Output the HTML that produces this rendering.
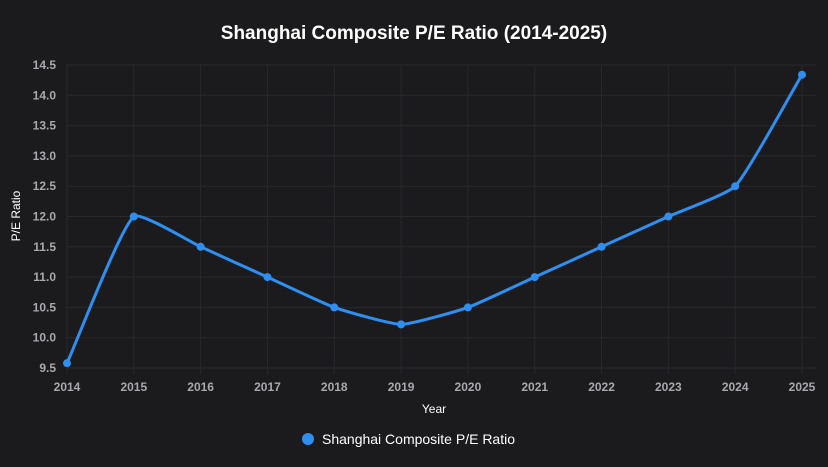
<!DOCTYPE html>
<html><head><meta charset="utf-8">
<style>
html,body{margin:0;padding:0;background:#1b1b1e;width:828px;height:467px;overflow:hidden}
svg{display:block;font-family:"Liberation Sans",Arial,sans-serif}
</style></head>
<body>
<svg id="chart" width="828" height="467">
<rect width="828" height="467" fill="#1b1b1e"/>
<text x="414" y="39" text-anchor="middle" fill="#ffffff" font-size="19" font-weight="bold">Shanghai Composite P/E Ratio (2014-2025)</text>
<g id="grid"></g>
<g id="yticks"></g>
<g id="xticks"></g>
<text transform="translate(20,216) rotate(-90)" text-anchor="middle" fill="#ffffff" font-size="12">P/E Ratio</text>
<text x="434" y="413" text-anchor="middle" fill="#ffffff" font-size="12">Year</text>
<path id="line" fill="none" stroke="#2f8ff0" stroke-width="3"/>
<g id="points"></g>
<g>
<circle cx="308" cy="439" r="6" fill="#2f8ff0"/>
<text x="322" y="444" fill="#ffffff" font-size="14">Shanghai Composite P/E Ratio</text>
</g>
</svg>
<script>
const years = ["2014","2015","2016","2017","2018","2019","2020","2021","2022","2023","2024","2025"];
const peValues = [9.58, 12.0, 11.5, 11.0, 10.5, 10.22, 10.5, 11.0, 11.5, 12.0, 12.5, 14.34];
const yTicks = [9.5,10.0,10.5,11.0,11.5,12.0,12.5,13.0,13.5,14.0,14.5];

const NS="http://www.w3.org/2000/svg";
const x0=67,x1=802,yTop=65,yBot=368,vMin=9.5,vMax=14.5;
const xs=i=>x0+(x1-x0)*i/(years.length-1);
const ys=v=>yBot-(v-vMin)/(vMax-vMin)*(yBot-yTop);
function mk(tag,attrs,parent,txt){const e=document.createElementNS(NS,tag);for(const k in attrs)e.setAttribute(k,attrs[k]);if(txt!==undefined)e.textContent=txt;parent.appendChild(e);return e;}
const grid=document.getElementById('grid'),yt=document.getElementById('yticks'),xt=document.getElementById('xticks');
yTicks.forEach(v=>{
  const l=mk('line',{x1:x0,x2:x1+14,y1:ys(v),y2:ys(v),stroke:'#28282d','stroke-width':1},grid);
  
  
  const t=mk('text',{x:56,y:ys(v)+4,'text-anchor':'end',fill:'#a9a9ad','font-size':12,'font-weight':'bold'},yt,v.toFixed(1));
  
  
});
years.forEach((y,i)=>{
  const l=mk('line',{x1:xs(i),x2:xs(i),y1:yTop,y2:yBot+6,stroke:'#28282d','stroke-width':1},grid);
  
  
  const t=mk('text',{x:xs(i),y:391,'text-anchor':'middle',fill:'#a9a9ad','font-size':12,'font-weight':'bold'},xt,y);
  
  
});
const pts=peValues.map((v,i)=>[xs(i),ys(v)]);
const T=0.15;
let d='M'+pts[0][0]+','+pts[0][1];
function cps(i){
  const p=pts[Math.max(i-1,0)],c=pts[i],n=pts[Math.min(i+1,pts.length-1)];
  const d01=Math.hypot(c[0]-p[0],c[1]-p[1]),d12=Math.hypot(n[0]-c[0],n[1]-c[1]);
  let fa=d01/(d01+d12)||0,fb=d12/(d01+d12)||0;fa*=T;fb*=T;
  return {prev:[c[0]-fa*(n[0]-p[0]),c[1]-fa*(n[1]-p[1])],next:[c[0]+fb*(n[0]-p[0]),c[1]+fb*(n[1]-p[1])]};
}
const cp=pts.map((_,i)=>cps(i));
for(let i=1;i<pts.length;i++){
  const a=cp[i-1].next,b=cp[i].prev;
  d+=` C${a[0]},${a[1]} ${b[0]},${b[1]} ${pts[i][0]},${pts[i][1]}`;
}
document.getElementById('line').setAttribute('d',d);
const pg=document.getElementById('points');
pts.forEach(p=>{
  const c=mk('circle',{cx:p[0],cy:p[1],r:4,fill:'#2f8ff0'},pg);
  
  
});
</script>
</body></html>
